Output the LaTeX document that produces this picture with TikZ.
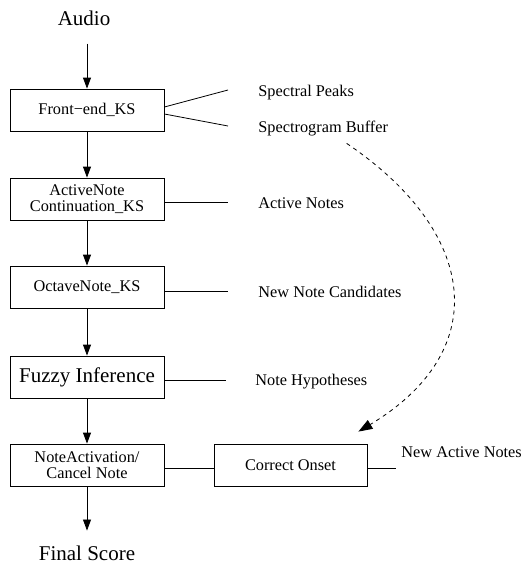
\documentclass[tikz,border=0pt]{standalone}
\usepackage{fontspec}
\setmainfont{Liberation Serif}
\usetikzlibrary{arrows.meta}
\begin{document}
\begin{tikzpicture}[x=1pt,y=-1pt,
  line width=0.8pt,
  small/.style={font=\fontsize{16.3}{16.5}\selectfont},
  big/.style={font=\fontsize{21}{24}\selectfont},
  ksbox/.style={draw,rectangle,minimum width=154pt,minimum height=42pt,inner sep=0pt,align=center},
  lbl/.style={small,anchor=base west,inner sep=0pt},
  flow/.style={-{Triangle[length=11pt,width=8pt]}},
  feed/.style={dash pattern=on 4pt off 4pt,-{Triangle[length=14pt,width=10pt]}}]
\useasboundingbox (0,0) rectangle (529,565);

% main column
\node[big,anchor=base,inner sep=0pt] (audio) at (84,25) {Audio};
\node[ksbox,small] (fe) at (87,110) {Front{\fontspec{Liberation Serif}−}end\_KS};
\node[ksbox,small] (an) at (87,199) {ActiveNote\\Continuation\_KS};
\node[ksbox,small] (oc) at (87,287) {OctaveNote\_KS};
\node[ksbox,big] (fz) at (87,377) {Fuzzy Inference};
\node[ksbox,small] (na) at (87,465) {NoteActivation/\\Cancel Note};
\node[draw,rectangle,minimum width=153pt,minimum height=42pt,inner sep=0pt,small] (co) at (290.5,465) {Correct Onset};
\node[big,anchor=base,inner sep=0pt] (final) at (87,560) {Final Score};

% labels
\node[lbl] (sp) at (258,96) {Spectral Peaks};
\node[lbl] (sb) at (258,132) {Spectrogram Buffer};
\node[lbl] (act) at (258,208) {Active Notes};
\node[lbl] (nnc) at (258,297) {New Note Candidates};
\node[lbl] (nh) at (255,385) {Note Hypotheses};
\node[lbl] (nan) at (401,457) {New Active Notes};

% free ends of the lines to the labels
\coordinate (spe) at (228,90);
\coordinate (sbe) at (228,126);
\coordinate (acte) at (228,202);
\coordinate (nnce) at (228,291);
\coordinate (nhe) at (226,380);
\coordinate (nane) at (396,468);

% flow arrows
\draw[flow,shorten <=18pt] (audio.south -| fe.north) -- (fe.north);
\draw[flow] (fe.south) -- (an.north);
\draw[flow] (an.south) -- (oc.north);
\draw[flow] (oc.south) -- (fz.north);
\draw[flow] (fz.south) -- (na.north);
\draw[flow,shorten >=14.5pt] (na.south) -- (final.north);

% lines to labels
\draw ([yshift=3pt]fe.east) -- (spe);
\draw ([yshift=-4pt]fe.east) -- (sbe);
\draw ([yshift=-3pt]an.east) -- (acte);
\draw ([yshift=-4pt]oc.east) -- (nnce);
\draw ([yshift=-3pt]fz.east) -- (nhe);
\draw ([yshift=-3pt]na.east) -- ([yshift=-3pt]co.west);
\draw ([yshift=-3pt]co.east) -- (nane);

% dashed feedback
\draw[feed] ([xshift=23.5pt,yshift=-7.5pt]sb.south) to[out=-34,in=31,looseness=1.4] ([xshift=-9pt,yshift=12pt]co.north east);
\end{tikzpicture}
\end{document}
